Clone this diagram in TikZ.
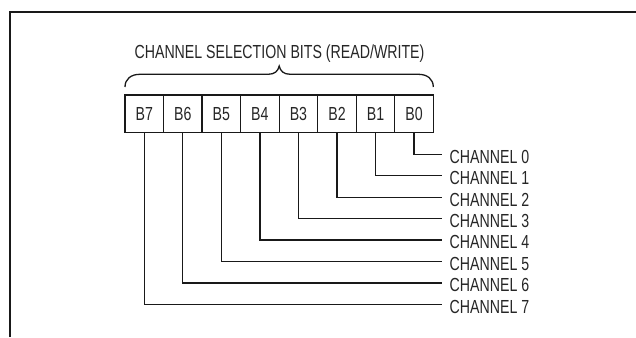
\documentclass[tikz,border=0pt]{standalone}
\usepackage{graphicx}
\usepackage{fontspec}
\setmainfont{Liberation Sans}
\newcommand{\narrowtxt}[1]{\scalebox{0.75}[1]{#1}}
\begin{document}
\begin{tikzpicture}[x=1pt,y=-1pt,
  frame/.style={line width=2pt,draw=black!90},
  txt/.style={inner sep=0pt,font=\fontsize{18.9}{21}\selectfont,text height=13.5pt,text depth=0pt,text=black!85},
  bitbox/.style={txt,draw=black!90,line width=1.3pt,minimum width=38.54pt,minimum height=37.7pt},
  chlabel/.style={txt,anchor=west},
  wire/.style={draw=black!90,line width=1.3pt},
  brace/.style={draw=black!90,line width=1.3pt}]
\useasboundingbox (0,0) rectangle (636,337);
\draw[frame] (10,337) -- (10,12) -- (636,12);
\node[txt] (title) at (279.5,51.5) {\narrowtxt{CHANNEL SELECTION BITS (READ/WRITE)}};
\foreach \b [count=\i from 0] in {7,6,5,4,3,2,1,0}
  \node[bitbox] (b\b) at ({125+38.54*(\i+0.5)},113.85) {\narrowtxt{B\b}};
\draw[brace] (125,87) .. controls (125,79) and (131,74.3) .. (140,74.3) -- (268,74.3)
  .. controls (275,74.3) and (278,71) .. (279.2,66)
  .. controls (280.4,71) and (283.4,74.3) .. (290.4,74.3) -- (418.3,74.3)
  .. controls (427.3,74.3) and (433.3,79) .. (433.3,87);
\foreach \k in {0,...,7} {
  \coordinate (e\k) at (441.7,{154.3+21.43*\k});
  \node[chlabel] (ch\k) at (449.5,{156.5+21.43*\k}) {\narrowtxt{CHANNEL \k}};
  \draw[wire] (b\k.south) |- (e\k);
}
\end{tikzpicture}
\end{document}
